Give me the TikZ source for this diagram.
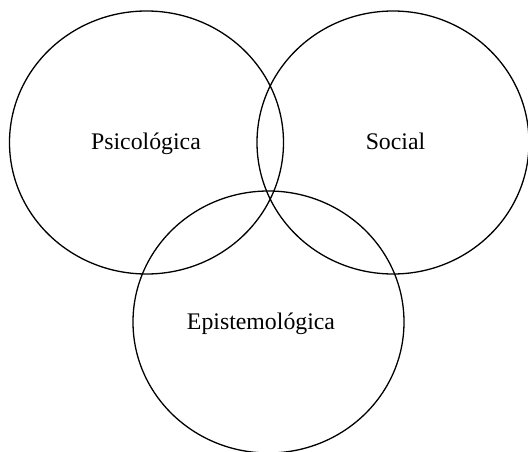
\documentclass[tikz,border=0pt]{standalone}
\usepackage{fontspec}
\setmainfont{Liberation Serif}
\usetikzlibrary{shapes.geometric}
\begin{document}
\begin{tikzpicture}[x=1pt,y=-1pt,
  venn/.style={draw=black, line width=1.3pt, shape=ellipse, inner sep=0pt},
  lbl/.style={anchor=base, inner sep=0pt, font=\fontsize{23.8}{28}\selectfont}]
\useasboundingbox (0,0) rectangle (528,452);
\node[venn, minimum width=274pt, minimum height=263pt] (psi) at (146.5,142.5) {};
\node[venn, minimum width=272pt, minimum height=263pt] (soc) at (393,142.5) {};
\node[venn, minimum width=271pt, minimum height=262pt] (epi) at (268.5,322) {};
\node[lbl] (tpsi) at (146,149.3) {Psicológica};
\node[lbl] (tsoc) at (395.5,149.3) {Social};
\node[lbl] (tepi) at (261,329.3) {Epistemológica};
\end{tikzpicture}
\end{document}
